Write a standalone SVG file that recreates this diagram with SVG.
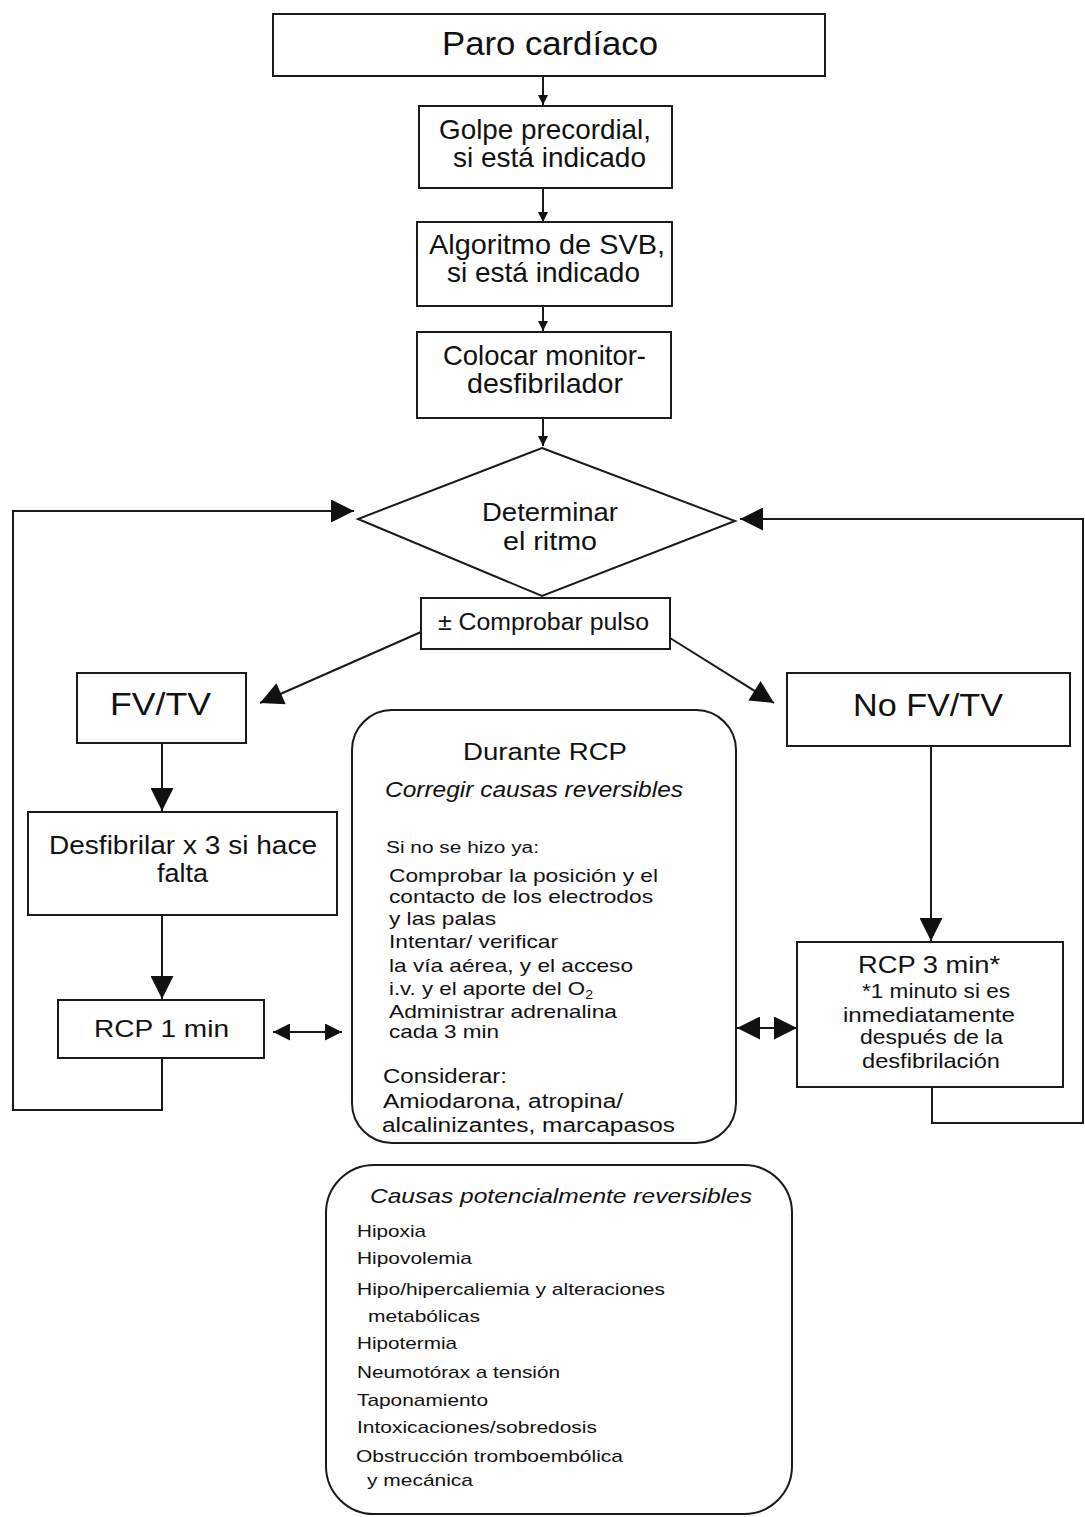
<svg xmlns="http://www.w3.org/2000/svg" width="1085" height="1517" viewBox="0 0 1085 1517">
<style>
.bx{fill:#fff;stroke:#1a1a1a;stroke-width:2}
.ln{fill:none;stroke:#1a1a1a;stroke-width:2}
text{font-family:"Liberation Sans",Arial,sans-serif;fill:#111}
.it{font-style:italic}
</style>
<defs>
<marker id="sm" viewBox="0 0 10 10" refX="10" refY="5" markerUnits="userSpaceOnUse" markerWidth="11" markerHeight="10" orient="auto-start-reverse"><path d="M0,0L10,5L0,10z" fill="#111"/></marker>
<marker id="md" viewBox="0 0 10 10" refX="10" refY="5" markerUnits="userSpaceOnUse" markerWidth="18" markerHeight="17" orient="auto-start-reverse"><path d="M0,0L10,5L0,10z" fill="#111"/></marker>
<marker id="lg" viewBox="0 0 10 10" refX="10" refY="5" markerUnits="userSpaceOnUse" markerWidth="29" markerHeight="23" orient="auto-start-reverse"><path d="M0,0L10,5L0,10z" fill="#111"/></marker>
</defs>
<rect width="1085" height="1517" fill="#fff"/>

<g id="connectors">
<line class="ln" x1="543" y1="77" x2="543" y2="105" marker-end="url(#sm)"/>
<line class="ln" x1="543" y1="188" x2="543" y2="222" marker-end="url(#sm)"/>
<line class="ln" x1="543" y1="306" x2="543" y2="331" marker-end="url(#sm)"/>
<line class="ln" x1="543" y1="418" x2="543" y2="446" marker-end="url(#sm)"/>
<line class="ln" x1="421" y1="632" x2="260" y2="703" marker-end="url(#lg)"/>
<line class="ln" x1="670" y1="638" x2="774" y2="703" marker-end="url(#lg)"/>
<line class="ln" x1="162" y1="743" x2="162" y2="811" marker-end="url(#lg)"/>
<line class="ln" x1="162" y1="915" x2="162" y2="999" marker-end="url(#lg)"/>
<line class="ln" x1="931" y1="746" x2="931" y2="941" marker-end="url(#lg)"/>
<line class="ln" x1="273" y1="1032" x2="342" y2="1032" marker-start="url(#md)" marker-end="url(#md)"/>
<line class="ln" x1="737" y1="1028" x2="797" y2="1028" marker-start="url(#lg)" marker-end="url(#lg)"/>
<polyline class="ln" points="162,1058 162,1110 13,1110 13,511 354,511" marker-end="url(#lg)"/>
<polyline class="ln" points="932,1088 932,1123 1083,1123 1083,519 740,519" marker-end="url(#lg)"/>
</g>

<g id="paro">
<rect class="bx" x="273" y="14" width="552" height="62"/>
<text x="442" y="55" font-size="34" textLength="216" lengthAdjust="spacingAndGlyphs">Paro cardíaco</text>
</g>
<g id="golpe">
<rect class="bx" x="419" y="106" width="253" height="82"/>
<text x="439" y="139" font-size="28" textLength="212" lengthAdjust="spacingAndGlyphs">Golpe precordial,</text>
<text x="453" y="167" font-size="28" textLength="193" lengthAdjust="spacingAndGlyphs">si está indicado</text>
</g>
<g id="algoritmo">
<rect class="bx" x="417" y="222" width="255" height="84"/>
<text x="429" y="254" font-size="28" textLength="236" lengthAdjust="spacingAndGlyphs">Algoritmo de SVB,</text>
<text x="447" y="282" font-size="28" textLength="193" lengthAdjust="spacingAndGlyphs">si está indicado</text>
</g>
<g id="colocar">
<rect class="bx" x="417" y="332" width="254" height="86"/>
<text x="443" y="365" font-size="28" textLength="203" lengthAdjust="spacingAndGlyphs">Colocar monitor-</text>
<text x="467" y="393" font-size="28" textLength="156" lengthAdjust="spacingAndGlyphs">desfibrilador</text>
</g>
<g id="determinar">
<polygon class="bx" points="542,448 735,521 542,596 358,519"/>
<text x="482" y="521" font-size="26" textLength="136" lengthAdjust="spacingAndGlyphs">Determinar</text>
<text x="503" y="550" font-size="26" textLength="94" lengthAdjust="spacingAndGlyphs">el ritmo</text>
</g>
<g id="pulso">
<rect class="bx" x="421" y="598" width="249" height="51"/>
<text x="438" y="630" font-size="23" textLength="211" lengthAdjust="spacingAndGlyphs">± Comprobar pulso</text>
</g>
<g id="fvtv">
<rect class="bx" x="77" y="673" width="169" height="70"/>
<text x="110" y="715" font-size="31" textLength="101" lengthAdjust="spacingAndGlyphs">FV/TV</text>
</g>
<g id="nofvtv">
<rect class="bx" x="787" y="673" width="283" height="73"/>
<text x="853" y="716" font-size="31" textLength="150" lengthAdjust="spacingAndGlyphs">No FV/TV</text>
</g>
<g id="desfibrilar">
<rect class="bx" x="28" y="812" width="309" height="103"/>
<text x="49" y="854" font-size="25" textLength="268" lengthAdjust="spacingAndGlyphs">Desfibrilar x 3 si hace</text>
<text x="157" y="882" font-size="25" textLength="51" lengthAdjust="spacingAndGlyphs">falta</text>
</g>
<g id="rcp1">
<rect class="bx" x="58" y="1000" width="206" height="58"/>
<text x="94" y="1037" font-size="24" textLength="135" lengthAdjust="spacingAndGlyphs">RCP 1 min</text>
</g>
<g id="durante">
<rect class="bx" x="352" y="710" width="384" height="433" rx="40"/>
<text x="463" y="760" font-size="23" textLength="164" lengthAdjust="spacingAndGlyphs">Durante RCP</text>
<text class="it" x="385" y="797" font-size="22" textLength="298" lengthAdjust="spacingAndGlyphs">Corregir causas reversibles</text>
<text x="386" y="853" font-size="16" textLength="153" lengthAdjust="spacingAndGlyphs">Si no se hizo ya:</text>
<text x="389" y="882" font-size="19" textLength="269" lengthAdjust="spacingAndGlyphs">Comprobar la posición y el</text>
<text x="389" y="903" font-size="19" textLength="264" lengthAdjust="spacingAndGlyphs">contacto de los electrodos</text>
<text x="389" y="925" font-size="19" textLength="107" lengthAdjust="spacingAndGlyphs">y las palas</text>
<text x="389" y="948" font-size="19" textLength="169" lengthAdjust="spacingAndGlyphs">Intentar/ verificar</text>
<text x="389" y="972" font-size="19" textLength="244" lengthAdjust="spacingAndGlyphs">la vía aérea, y el acceso</text>
<text x="389" y="995" font-size="19" textLength="204" lengthAdjust="spacingAndGlyphs">i.v. y el aporte del O<tspan font-size="12" dy="4">2</tspan></text>
<text x="389" y="1018" font-size="19" textLength="228" lengthAdjust="spacingAndGlyphs">Administrar adrenalina</text>
<text x="389" y="1038" font-size="19" textLength="110" lengthAdjust="spacingAndGlyphs">cada 3 min</text>
<text x="383" y="1083" font-size="20" textLength="124" lengthAdjust="spacingAndGlyphs">Considerar:</text>
<text x="383" y="1108" font-size="20" textLength="240" lengthAdjust="spacingAndGlyphs">Amiodarona, atropina/</text>
<text x="382" y="1132" font-size="20" textLength="293" lengthAdjust="spacingAndGlyphs">alcalinizantes, marcapasos</text>
</g>
<g id="rcp3">
<rect class="bx" x="797" y="942" width="266" height="145"/>
<text x="858" y="973" font-size="24" textLength="142" lengthAdjust="spacingAndGlyphs">RCP 3 min*</text>
<text x="862" y="998" font-size="21" textLength="148" lengthAdjust="spacingAndGlyphs">*1 minuto si es</text>
<text x="843" y="1022" font-size="21" textLength="172" lengthAdjust="spacingAndGlyphs">inmediatamente</text>
<text x="860" y="1044" font-size="21" textLength="143" lengthAdjust="spacingAndGlyphs">después de la</text>
<text x="862" y="1068" font-size="21" textLength="138" lengthAdjust="spacingAndGlyphs">desfibrilación</text>
</g>
<g id="causas">
<rect class="bx" x="326" y="1165" width="466" height="349" rx="48"/>
<text class="it" x="370" y="1203" font-size="21" textLength="382" lengthAdjust="spacingAndGlyphs">Causas potencialmente reversibles</text>
<text x="357" y="1237" font-size="17" textLength="69" lengthAdjust="spacingAndGlyphs">Hipoxia</text>
<text x="357" y="1264" font-size="17" textLength="115" lengthAdjust="spacingAndGlyphs">Hipovolemia</text>
<text x="357" y="1295" font-size="17" textLength="308" lengthAdjust="spacingAndGlyphs">Hipo/hipercaliemia y alteraciones</text>
<text x="368" y="1322" font-size="17" textLength="112" lengthAdjust="spacingAndGlyphs">metabólicas</text>
<text x="357" y="1349" font-size="17" textLength="100" lengthAdjust="spacingAndGlyphs">Hipotermia</text>
<text x="357" y="1378" font-size="17" textLength="203" lengthAdjust="spacingAndGlyphs">Neumotórax a tensión</text>
<text x="357" y="1406" font-size="17" textLength="131" lengthAdjust="spacingAndGlyphs">Taponamiento</text>
<text x="357" y="1433" font-size="17" textLength="240" lengthAdjust="spacingAndGlyphs">Intoxicaciones/sobredosis</text>
<text x="356" y="1462" font-size="17" textLength="267" lengthAdjust="spacingAndGlyphs">Obstrucción tromboembólica</text>
<text x="367" y="1486" font-size="17" textLength="106" lengthAdjust="spacingAndGlyphs">y mecánica</text>
</g>
</svg>
